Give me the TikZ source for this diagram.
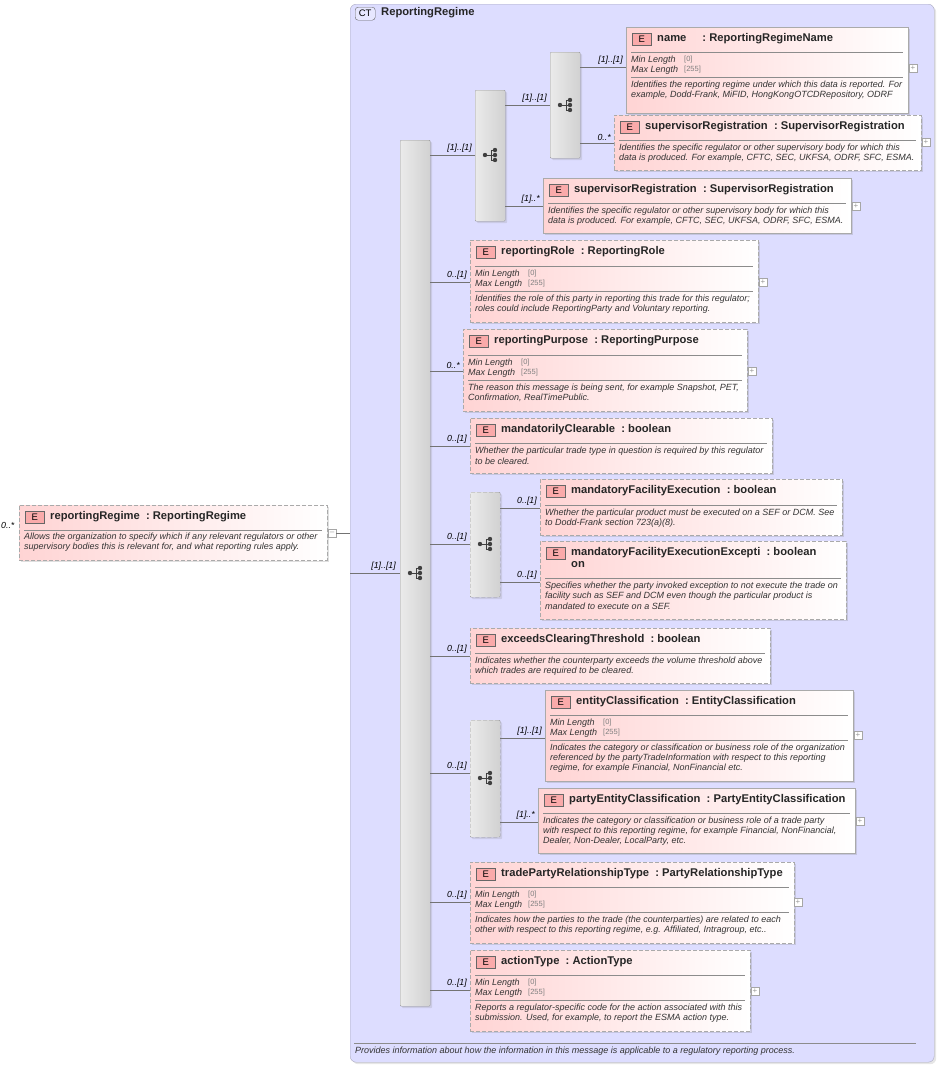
\documentclass[tikz,border=0pt]{standalone}
\usepackage{fontspec}
\setmainfont{Liberation Sans}
\usetikzlibrary{shadows}
\definecolor{ctfill}{RGB}{221,221,255}
\definecolor{ctline}{RGB}{170,170,190}
\definecolor{elpink}{RGB}{255,212,212}
\definecolor{elline}{RGB}{170,170,170}
\definecolor{badge}{RGB}{250,170,170}
\tikzset{
 elbox/.style={draw=elline,left color=elpink,right color=white,inner sep=0,drop shadow={opacity=0.25,shadow xshift=2pt,shadow yshift=-2pt}},
 solidb/.style={solid},
 dashb/.style={dashed,dash pattern=on 4pt off 2pt},
 badge/.style={draw=black!60,fill=badge,minimum width=19pt,minimum height=12pt,inner sep=0,font=\fontsize{9.5}{10}\selectfont},
 ttl/.style={inner sep=0,font=\fontsize{11.2}{13}\bfseries\selectfont,text=black!85},
 desc/.style={inner sep=0,anchor=west,font=\fontsize{9}{10}\itshape\selectfont,text=black!80},
 facv/.style={inner sep=0,anchor=west,font=\fontsize{7.5}{8}\selectfont,text=black!50},
 sep/.style={draw=black!45,line width=0.6pt},
 lbl/.style={inner sep=0,anchor=south east,font=\fontsize{8.8}{10}\itshape\selectfont},
 conn/.style={draw=black!55,line width=0.6pt},
 pbox/.style={draw=black!35,fill=white,minimum size=8pt,inner sep=0,font=\fontsize{8}{8}\selectfont,text=black!40},
 comp/.style={draw=black!40,left color=black!8,right color=black!18,rounded corners=1pt,inner sep=0,drop shadow={opacity=0.2,shadow xshift=2pt,shadow yshift=-2pt}},
}
\newcommand\EB[7]{%
 \pgfmathsetmacro\ebw{#5-#3}\pgfmathsetmacro\ebh{#6-#4}%
 \node[elbox,#2,minimum width=\ebw pt,minimum height=\ebh pt,anchor=north west] (#1) at (#3,#4) {};
 \node[badge,anchor=north west] (#1b) at (#3+6,#4+6) {E};
 \node[ttl,anchor=west] (#1t) at (#3+31,#4+12) {#7};
}
\newcommand\SEP[3]{\draw[sep] (#1+5,#3) -- (#2-5,#3);}
\newcommand\MINMAX[2]{%
 \node[desc] at (#1+5,#2) {Min Length}; \node[facv] at (#1+58,#2) {[0]};
 \node[desc] at (#1+5,#2+10) {Max Length}; \node[facv] at (#1+58,#2+10) {[255]};
}
\newcommand\PLUS[3]{\node[pbox] (#1) at (#2,#3) {+};}
\newcommand\COMP[6]{%
 \pgfmathsetmacro\ebw{#4-#2}\pgfmathsetmacro\ebh{#5-#3}%
 \node[comp,#6,minimum width=\ebw pt,minimum height=\ebh pt,anchor=north west] (#1) at (#2,#3) {};
}
\newcommand\ICON[2]{%
 \fill[black!75] (#1-7,#2) circle (2.2pt);
 \draw[black!75,line width=0.9pt] (#1-7,#2) -- (#1-1,#2) (#1-1,#2-5) -- (#1-1,#2+5)
   (#1-1,#2-5) -- (#1+3,#2-5) (#1-1,#2+5) -- (#1+3,#2+5) (#1-1,#2) -- (#1+3,#2);
 \fill[black!75] (#1+3,#2-5) circle (2.2pt) (#1+3,#2) circle (2.2pt) (#1+3,#2+5) circle (2.2pt);
}
\begin{document}
\begin{tikzpicture}[x=1pt,y=-1pt]
\useasboundingbox (0,0) rectangle (940,1066);
% container
\node[draw=ctline,fill=ctfill,rounded corners=6pt,minimum width=584pt,minimum height=1058pt,anchor=north west,inner sep=0,drop shadow={opacity=0.2,shadow xshift=2pt,shadow yshift=-2pt}] (ct) at (350,4) {};
\node[draw=black!60,fill=ctfill!70!white,rounded corners=3pt,minimum width=20pt,minimum height=13pt,inner sep=0,anchor=north west,font=\fontsize{9.5}{10}\selectfont] (ctb) at (355,7) {CT};
\node[ttl,anchor=west] (ctt) at (381,13) {ReportingRegime};
\draw[sep] (354,1043) -- (916,1043);
\node[desc] (ctd) at (355,1051) {Provides information about how the information in this message is applicable to a regulatory reporting process.};

% outer element
\EB{rr}{dashb}{19}{505}{327}{560}{reportingRegime\ \ :\ ReportingRegime}
\SEP{19}{327}{530}
\node[desc] at (24,537) {Allows the organization to specify which if any relevant regulators or other};
\node[desc] at (24,547) {supervisory bodies this is relevant for, and what reporting rules apply.};
\node[lbl,anchor=west] (rrl) at (1,525) {0..*};
\node[pbox] (rrm) at (332,533) {--};
\draw[conn] (rrm.east) -- (ct.west|-rrm);

% compositors
\COMP{m}{400}{140}{430}{1006}{solid}
\ICON{417}{573}
\COMP{s2}{475}{90}{505}{221}{solid}
\ICON{492}{155}
\COMP{s3}{550}{52}{580}{158}{solid}
\ICON{567}{105}
\COMP{sa}{470}{492}{500}{597}{dashb}
\ICON{487}{544}
\COMP{sb}{470}{720}{500}{837}{dashb}
\ICON{487}{778}
\coordinate (in) at (350,573);
\draw[conn] (in) -- (m.west|-in); \node[lbl] at (396,571) {[1]..[1]};

% name
\EB{n1}{solidb}{626}{27}{908}{113}{name\hspace{16pt}:\ ReportingRegimeName}
\SEP{626}{908}{52} \MINMAX{626}{60} \SEP{626}{908}{77}
\node[desc] at (631,85) {Identifies the reporting regime under which this data is reported. For};
\node[desc] at (631,95) {example, Dodd-Frank, MiFID, HongKongOTCDRepository, ODRF};
\PLUS{p1}{913}{68}
% supervisorRegistration dashed
\EB{n2}{dashb}{614}{115}{921}{170}{supervisorRegistration\ \ :\ SupervisorRegistration}
\SEP{614}{921}{140}
\node[desc] at (619,148) {Identifies the specific regulator or other supervisory body for which this};
\node[desc] at (619,158) {data is produced. For example, CFTC, SEC, UKFSA, ODRF, SFC, ESMA.};
\PLUS{p2}{926}{142}
% supervisorRegistration solid
\EB{n3}{solidb}{543}{178}{851}{233}{supervisorRegistration\ \ :\ SupervisorRegistration}
\SEP{543}{851}{203}
\node[desc] at (548,211) {Identifies the specific regulator or other supervisory body for which this};
\node[desc] at (548,221) {data is produced. For example, CFTC, SEC, UKFSA, ODRF, SFC, ESMA.};
\PLUS{p3}{856}{206}
% reportingRole
\EB{n4}{dashb}{470}{240}{758}{322}{reportingRole\ \ :\ ReportingRole}
\SEP{470}{758}{266} \MINMAX{470}{274} \SEP{470}{758}{291}
\node[desc] at (475,299) {Identifies the role of this party in reporting this trade for this regulator;};
\node[desc] at (475,309) {roles could include ReportingParty and Voluntary reporting.};
\PLUS{p4}{763}{282}
% reportingPurpose
\EB{n5}{dashb}{463}{329}{747}{411}{reportingPurpose\ \ :\ ReportingPurpose}
\SEP{463}{747}{355} \MINMAX{463}{363} \SEP{463}{747}{380}
\node[desc] at (468,388) {The reason this message is being sent, for example Snapshot, PET,};
\node[desc] at (468,398) {Confirmation, RealTimePublic.};
\PLUS{p5}{752}{371}
% mandatorilyClearable
\EB{n6}{dashb}{470}{418}{772}{473}{mandatorilyClearable\ \ :\ boolean}
\SEP{470}{772}{443}
\node[desc] at (475,451) {Whether the particular trade type in question is required by this regulator};
\node[desc] at (475,461) {to be cleared.};
% mFE
\EB{n7}{dashb}{540}{479}{842}{535}{mandatoryFacilityExecution\ \ :\ boolean}
\SEP{540}{842}{505}
\node[desc] at (545,513) {Whether the particular product must be executed on a SEF or DCM. See};
\node[desc] at (545,523) {to Dodd-Frank section 723(a)(8).};
% mFEE
\EB{n8}{dashb}{540}{541}{846}{619}{mandatoryFacilityExecutionExcepti\ \ :\ boolean}
\node[ttl,anchor=west] at (571,565) {on};
\SEP{540}{846}{578}
\node[desc] at (545,586) {Specifies whether the party invoked exception to not execute the trade on};
\node[desc] at (545,596) {facility such as SEF and DCM even though the particular product is};
\node[desc] at (545,606) {mandated to execute on a SEF.};
% exceeds
\EB{n9}{dashb}{470}{628}{770}{683}{exceedsClearingThreshold\ \ :\ boolean}
\SEP{470}{770}{653}
\node[desc] at (475,661) {Indicates whether the counterparty exceeds the volume threshold above};
\node[desc] at (475,671) {which trades are required to be cleared.};
% entityClassification
\EB{n10}{solidb}{545}{690}{853}{781}{entityClassification\ \ :\ EntityClassification}
\SEP{545}{853}{715} \MINMAX{545}{723} \SEP{545}{853}{740}
\node[desc] at (550,748) {Indicates the category or classification or business role of the organization};
\node[desc] at (550,758) {referenced by the partyTradeInformation with respect to this reporting};
\node[desc] at (550,768) {regime, for example Financial, NonFinancial etc.};
\PLUS{p10}{858}{735}
% partyEntityClassification
\EB{n11}{solidb}{538}{788}{855}{853}{partyEntityClassification\ \ :\ PartyEntityClassification}
\SEP{538}{855}{813}
\node[desc] at (543,821) {Indicates the category or classification or business role of a trade party};
\node[desc] at (543,831) {with respect to this reporting regime, for example Financial, NonFinancial,};
\node[desc] at (543,841) {Dealer, Non-Dealer, LocalParty, etc.};
\PLUS{p11}{860}{821}
% tradePartyRelationshipType
\EB{n12}{dashb}{470}{862}{794}{943}{tradePartyRelationshipType\ \ :\ PartyRelationshipType}
\SEP{470}{794}{887} \MINMAX{470}{895} \SEP{470}{794}{912}
\node[desc] at (475,920) {Indicates how the parties to the trade (the counterparties) are related to each};
\node[desc] at (475,930) {other with respect to this reporting regime, e.g. Affiliated, Intragroup, etc..};
\PLUS{p12}{798}{902}
% actionType
\EB{n13}{dashb}{470}{950}{750}{1031}{actionType\ \ :\ ActionType}
\SEP{470}{750}{975} \MINMAX{470}{983} \SEP{470}{750}{1000}
\node[desc] at (475,1008) {Reports a regulator-specific code for the action associated with this};
\node[desc] at (475,1018) {submission. Used, for example, to report the ESMA action type.};
\PLUS{p13}{755}{991}

% connectors
\newcommand\CON[4]{\coordinate (c) at (0,#3); \draw[conn] (#1.east|-c) -- (#2.west|-c); \node[lbl] at ([xshift=-3pt,yshift=2pt]#2.west|-c) {#4};}
\CON{m}{s2}{155}{[1]..[1]}
\CON{s2}{s3}{105}{[1]..[1]}
\CON{s3}{n1}{67}{[1]..[1]}
\CON{s3}{n2}{143}{0..*}
\CON{s2}{n3}{206}{[1]..*}
\CON{m}{n4}{282}{0..[1]}
\CON{m}{n5}{371}{0..*}
\CON{m}{n6}{446}{0..[1]}
\CON{m}{sa}{544}{0..[1]}
\CON{sa}{n7}{508}{0..[1]}
\CON{sa}{n8}{582}{0..[1]}
\CON{m}{n9}{656}{0..[1]}
\CON{m}{sb}{773}{0..[1]}
\CON{sb}{n10}{738}{[1]..[1]}
\CON{sb}{n11}{822}{[1]..*}
\CON{m}{n12}{902}{0..[1]}
\CON{m}{n13}{990}{0..[1]}
\end{tikzpicture}
\end{document}
